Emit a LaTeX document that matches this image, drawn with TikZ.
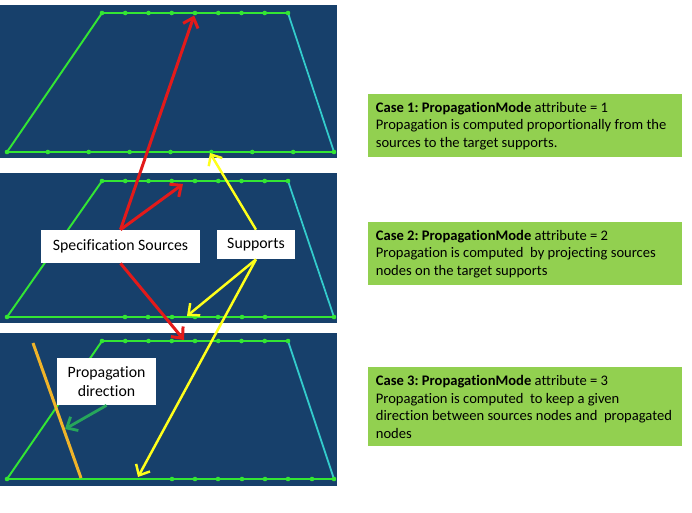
\documentclass[tikz,border=0pt]{standalone}
\usepackage{fontspec}
\setmainfont{Carlito}[Ligatures=NoCommon]
\usetikzlibrary{arrows.meta,calc,positioning}
\definecolor{panelblue}{HTML}{17406B}
\definecolor{edgegreen}{HTML}{33E633}
\definecolor{edgecyan}{HTML}{33CCCC}
\definecolor{srcred}{HTML}{E31A1A}
\definecolor{supyellow}{HTML}{FFFF1A}
\definecolor{dirorange}{HTML}{F0B429}
\definecolor{dirgreen}{HTML}{26A65B}
\definecolor{casegreen}{HTML}{92D050}
\frenchspacing
\tikzset{
  panel/.style={fill=panelblue},
  edge/.style={draw=edgegreen, line width=1.1pt},
  sideedge/.style={draw=edgecyan, line width=1pt},
  dot/.style={circle, fill=edgegreen, inner sep=0pt, minimum size=2.6pt},
  tagbox/.style={
    fill=white,
    inner sep=0pt,
    align=center,
    font=\fontsize{9}{11}\selectfont
  },
  casebox/.style={
    fill=casegreen,
    anchor=north west,
    align=flush left,
    text width=5.98cm,
    inner xsep=0.15cm,
    inner ysep=0pt,
    font=\fontsize{8.3}{9.9}\selectfont
  },
  srcarrow/.style={-{Straight Barb[length=5pt,width=9pt]}, line width=1.7pt, draw=srcred},
  suparrow/.style={-{Straight Barb[length=5pt,width=9pt]}, line width=1.4pt, draw=supyellow},
  dirarrow/.style={-{Straight Barb[length=5pt,width=9pt]}, line width=1.6pt, draw=dirgreen},
  dirline/.style={line width=1.7pt, draw=dirorange}
}
\begin{document}
\begin{tikzpicture}[x=0.02cm, y=-0.02cm]
  \useasboundingbox[fill=white] (0,0) rectangle (692,512);
  % three panels
  \foreach \i/\ptop/\pbot/\ty/\by in {1/5/158/13/152, 2/173/323/181/317, 3/333/486/341/479} {
    \fill[panel] (0,\ptop) rectangle (337,\pbot);
    \coordinate (tl\i) at (102,\ty);
    \coordinate (tr\i) at (288,\ty);
    \coordinate (bl\i) at (7,\by);
    \coordinate (br\i) at (334,\by);
    \draw[edge] (tr\i) -- (tl\i) -- (bl\i) -- (br\i);
    \draw[sideedge] (br\i) -- (tr\i);
    \foreach \k in {0,...,8}
      \node[dot] (top\i-\k) at ($(tl\i)!\k/8!(tr\i)$) {};
    \node[dot] at (bl\i) {};
    \node[dot] at (br\i) {};
  }
  % nodes on the target supports
  \foreach \k in {1,...,7}
    \node[dot] at ($(bl1)!\k/8!(br1)$) {};
  \foreach \x in {125,148,172,195,218,242,265}
    \node[dot] at (\x,317) {};
  \foreach \x in {172,195,218,242,265,288,312}
    \node[dot] at (\x,479) {};

  \coordinate (redB) at (183,184);
  \coordinate (redC) at (184,340);
  \coordinate (yelA) at (210,153);
  \coordinate (yelB) at (187,316);
  \coordinate (yelC) at (138,477);
  \coordinate (dirtop) at (33,343);
  \coordinate (dirbot) at (81,478);
  \coordinate (dirA) at (65,429);

  \draw[dirline] (dirtop) -- (dirbot);

  \node[tagbox, minimum width=3.18cm, minimum height=0.66cm] (src) at (120.5,246.5) {Specification Sources};
  \node[tagbox, minimum width=1.56cm, minimum height=0.58cm] (sup) at (256,244.5) {Supports};
  \node[tagbox, minimum width=1.98cm, minimum height=0.94cm] (dir) at (106.5,381.5) {Propagation\\direction};

  \draw[srcarrow] (src.north) -- (top1-4);
  \draw[srcarrow] (src.north) -- (redB);
  \draw[srcarrow] (src.south) -- (redC);
  \draw[suparrow] (sup.north) -- (yelA);
  \draw[suparrow] (sup.south) -- (yelB);
  \draw[suparrow] (sup.south) -- (yelC);
  \draw[dirarrow] (dir.south) -- (dirA);

  \node[casebox, minimum height=1.26cm] (case1) at (368,94)
    {\textbf{Case 1: PropagationMode} attribute = 1\\Propagation is computed proportionally from the\\sources to the target supports.};
  \node[casebox, minimum height=1.26cm] (case2) at (368,222)
    {\textbf{Case 2: PropagationMode} attribute = 2\\Propagation is computed \ by projecting sources\\nodes on the target supports};
  \node[casebox, minimum height=1.58cm] (case3) at (368,367)
    {\textbf{Case 3: PropagationMode} attribute = 3\\Propagation is computed \ to keep a given\\direction between sources nodes and \ propagated\\nodes};
\end{tikzpicture}
\end{document}
